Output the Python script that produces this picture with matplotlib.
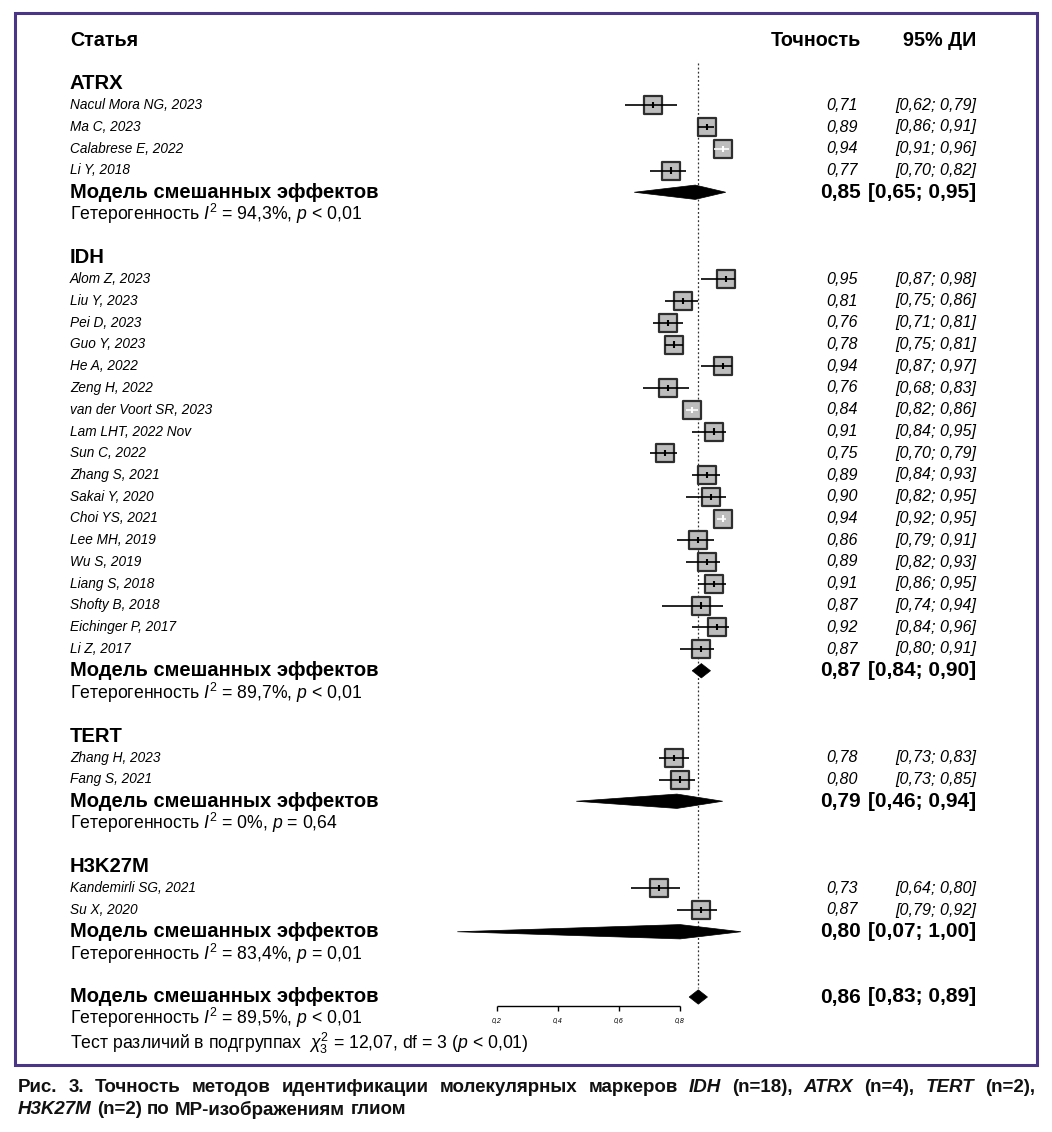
import matplotlib
matplotlib.use('Agg')
import matplotlib.pyplot as plt
from matplotlib.patches import Polygon, Rectangle
from matplotlib import font_manager

# ---- data ----
atrx_names = ['Nacul Mora NG, 2023', 'Ma C, 2023', 'Calabrese E, 2022', 'Li Y, 2018']
atrx_acc = [0.71, 0.89, 0.94, 0.77]
atrx_lo = [0.62, 0.86, 0.91, 0.70]
atrx_hi = [0.79, 0.91, 0.96, 0.82]

idh_names = ['Alom Z, 2023', 'Liu Y, 2023', 'Pei D, 2023', 'Guo Y, 2023', 'He A, 2022',
             'Zeng H, 2022', 'van der Voort SR, 2023', 'Lam LHT, 2022 Nov', 'Sun C, 2022',
             'Zhang S, 2021', 'Sakai Y, 2020', 'Choi YS, 2021', 'Lee MH, 2019', 'Wu S, 2019',
             'Liang S, 2018', 'Shofty B, 2018', 'Eichinger P, 2017', 'Li Z, 2017']
idh_acc = [0.95, 0.81, 0.76, 0.78, 0.94, 0.76, 0.84, 0.91, 0.75,
           0.89, 0.90, 0.94, 0.86, 0.89, 0.91, 0.87, 0.92, 0.87]
idh_lo = [0.87, 0.75, 0.71, 0.75, 0.87, 0.68, 0.82, 0.84, 0.70,
          0.84, 0.82, 0.92, 0.79, 0.82, 0.86, 0.74, 0.84, 0.80]
idh_hi = [0.98, 0.86, 0.81, 0.81, 0.97, 0.83, 0.86, 0.95, 0.79,
          0.93, 0.95, 0.95, 0.91, 0.93, 0.95, 0.94, 0.96, 0.91]

tert_names = ['Zhang H, 2023', 'Fang S, 2021']
tert_acc = [0.78, 0.80]
tert_lo = [0.73, 0.73]
tert_hi = [0.83, 0.85]

h3_names = ['Kandemirli SG, 2021', 'Su X, 2020']
h3_acc = [0.73, 0.87]
h3_lo = [0.64, 0.79]
h3_hi = [0.80, 0.92]

group_labels = ['ATRX', 'IDH', 'TERT', 'H3K27M']
model_acc = [0.85, 0.87, 0.79, 0.80]
model_lo = [0.65, 0.84, 0.46, 0.07]
model_hi = [0.95, 0.90, 0.94, 1.00]
het_i2 = ['94,3%', '89,7%', '0%', '83,4%']
het_p = ['< 0,01', '< 0,01', '= 0,64', '= 0,01']

overall_acc, overall_lo, overall_hi = 0.86, 0.83, 0.89
overall_i2, overall_p = '89,5%', '< 0,01'
test_chi2, test_df, test_p = '12,07', '3', '< 0,01'

# studies whose CI fits inside the square (drawn in white)
inside_ci = ['Calabrese E, 2022', 'van der Voort SR, 2023', 'Choi YS, 2021']

axis_ticks = [0.2, 0.4, 0.6, 0.8]

caption1 = [('Рис.', 0), ('3.', 0), ('Точность', 0), ('методов', 0), ('идентификации', 0),
            ('молекулярных', 0), ('маркеров', 0), ('IDH', 1), ('(n=18),', 0), ('ATRX', 1),
            ('(n=4),', 0), ('TERT', 1), ('(n=2),', 0)]
caption2 = [('H3K27M', 1), ('(n=2)', 0), ('по', 0), ('МР-изображениям', 0), ('глиом', 0)]

# ---- fonts ----
avail = {f.name for f in font_manager.fontManager.ttflist}
SANS = 'Liberation Sans' if 'Liberation Sans' in avail else 'DejaVu Sans'
NARROW = 'Liberation Sans Narrow' if 'Liberation Sans Narrow' in avail else SANS
plt.rcParams['font.family'] = [SANS, 'DejaVu Sans']
plt.rcParams['mathtext.fontset'] = 'custom'
plt.rcParams['mathtext.rm'] = SANS
plt.rcParams['mathtext.it'] = SANS + ':italic'
plt.rcParams['mathtext.bf'] = SANS + ':bold'

W, H = 1052, 1132
fig = plt.figure(figsize=(W / 100, H / 100), dpi=100)
ax = fig.add_axes([0, 0, 1, 1])
# x: accuracy scale, 0.2 at px 497, 305 px per unit; y: row index, 21.75 px per row
ax.set_xlim(0.2 - 497 / 305, 0.2 + (W - 497) / 305)
ax.set_ylim((H - 40) / 21.75, -40 / 21.75)
ax.axis('off')
tr = ax.get_yaxis_transform()

LEFT = 70 / W
ACC_R = 858 / W
CI_R = 976 / W

SQ_FACE = '#bdbdbd'
SQ_EDGE = '#2e2e2e'

FS_HEAD = 14.2
FS_GROUP = 14.6
FS_STUDY = 9.8
FS_VAL = 11.6
FS_MODEL = 14.5
FS_MODEL_VAL = 15
FS_HET = 12.7


def fmt(v):
    return f'{v:.2f}'.replace('.', ',')


def diamond(est, lo, hi, y, h=0.33):
    ax.add_patch(Polygon([(lo, y), (est, y - h), (hi, y), (est, y + h)],
                         closed=True, facecolor='black', edgecolor='black', lw=0.5, zorder=4))


def het_text(y, i2, p):
    ax.text(LEFT, y, f'Гетерогенность $I^2$ = {i2}, $p$ {p}', transform=tr,
            fontsize=FS_HET, va='center')


def model_row(y, a, l, h):
    ax.text(LEFT, y, 'Модель смешанных эффектов', transform=tr, fontsize=FS_MODEL,
            fontweight='bold', va='center')
    ax.text(861 / W, y, fmt(a), transform=tr, fontsize=FS_MODEL_VAL, fontweight='bold',
            va='center', ha='right')
    ax.text(CI_R, y, f'[{fmt(l)}; {fmt(h)}]', transform=tr, fontsize=FS_MODEL_VAL,
            fontweight='bold', va='center', ha='right')


# header
ax.text(LEFT, 0, 'Статья', transform=tr, fontsize=FS_HEAD, fontweight='bold', va='center')
ax.text(861 / W, 0, 'Точность', transform=tr, fontsize=FS_HEAD, fontweight='bold',
        va='center', ha='right')
ax.text(CI_R, 0, '95% ДИ', transform=tr, fontsize=FS_HEAD, fontweight='bold',
        va='center', ha='right')

groups = [
    (atrx_names, atrx_acc, atrx_lo, atrx_hi),
    (idh_names, idh_acc, idh_lo, idh_hi),
    (tert_names, tert_acc, tert_lo, tert_hi),
    (h3_names, h3_acc, h3_lo, h3_hi),
]

row = 2
for gi, (names, acc, lo, hi) in enumerate(groups):
    ax.text(LEFT, row, group_labels[gi], transform=tr, fontsize=FS_GROUP, fontweight='bold',
            va='center')
    row += 1
    ys = list(range(row, row + len(names)))
    ax.scatter(acc, ys, marker='s', s=155, facecolor=SQ_FACE, edgecolor=SQ_EDGE,
               linewidths=1.6, zorder=2)
    for name, a, l, h, y in zip(names, acc, lo, hi, ys):
        c = 'white' if name in inside_ci else 'black'
        ax.hlines(y, l, h, colors=c, lw=1.2, zorder=3)
        ax.vlines(a, y - 0.14, y + 0.14, colors=c, lw=1.5, zorder=3)
        ax.text(LEFT, y, name, transform=tr, fontsize=FS_STUDY, style='italic', va='center')
        ax.text(ACC_R, y, fmt(a), transform=tr, fontsize=FS_VAL, style='italic',
                va='center', ha='right')
        ax.text(CI_R, y, f'[{fmt(l)}; {fmt(h)}]', transform=tr, fontsize=FS_VAL,
                style='italic', va='center', ha='right')
    row += len(names)
    diamond(model_acc[gi], model_lo[gi], model_hi[gi], row)
    model_row(row, model_acc[gi], model_lo[gi], model_hi[gi])
    row += 1
    het_text(row, het_i2[gi], het_p[gi])
    row += 2

# overall
diamond(overall_acc, overall_lo, overall_hi, row)
model_row(row, overall_acc, overall_lo, overall_hi)
ax.vlines(overall_acc, 1.05, row - 0.4, colors='#333333', lw=0.9,
          linestyles=(0, (1.5, 1.8)), zorder=1)

# x axis
axis_y = row + 0.42
ax.hlines(axis_y, axis_ticks[0], axis_ticks[-1], colors='black', lw=1.0)
ax.vlines(axis_ticks, axis_y, axis_y + 0.22, colors='black', lw=1.0)
for t in axis_ticks:
    ax.text(t, axis_y + 0.65, fmt(t)[:3], fontsize=5, style='italic', ha='center', va='center')

het_text(row + 0.95, overall_i2, overall_p)
ax.text(LEFT, row + 2.12, f'Тест различий в подгруппах  $\\chi^2_{{{test_df}}}$ = {test_chi2}, '
        f'df = {test_df} ($p$ {test_p})', transform=tr, fontsize=FS_HET, va='center')

# frame
fig.patches.append(Rectangle((15 / W, 1 - 1065 / H), (1037 - 15) / W, (1065 - 13) / H,
                             transform=fig.transFigure, fill=False, edgecolor='#4b3587', lw=2.2))

# caption, laid out word by word
renderer = fig.canvas.get_renderer()


def text_width(s, fs):
    t = fig.text(0, 0, s, family=[NARROW], fontsize=fs, fontweight='bold')
    w = t.get_window_extent(renderer).width
    t.remove()
    return w


def caption_line(words, y_px, justify, fs):
    arts = []
    for w, it in words:
        t = fig.text(0, 1 - y_px / H, w, family=[NARROW, 'DejaVu Sans'], fontsize=fs,
                     fontweight='bold', style='italic' if it else 'normal', va='center',
                     color='#111111')
        arts.append(t)
    widths = [t.get_window_extent(renderer).width for t in arts]
    sp = text_width('a b', fs) - text_width('ab', fs)
    x0, x1 = 18, 1035
    gap = (x1 - x0 - sum(widths)) / (len(words) - 1) if justify else sp
    x = x0
    for t, wd in zip(arts, widths):
        t.set_x(x / W)
        x += wd + gap
    return arts, sum(widths) + sp * (len(words) - 1)


fs = 13.5
for _ in range(10):
    arts, natural = caption_line(caption1, 1087, False, fs)
    for t in arts:
        t.remove()
    if natural <= 1035 - 18:
        break
    fs -= 0.5
caption_line(caption1, 1087, True, fs)
caption_line(caption2, 1110, False, fs)

fig.savefig('out.png', dpi=100)
